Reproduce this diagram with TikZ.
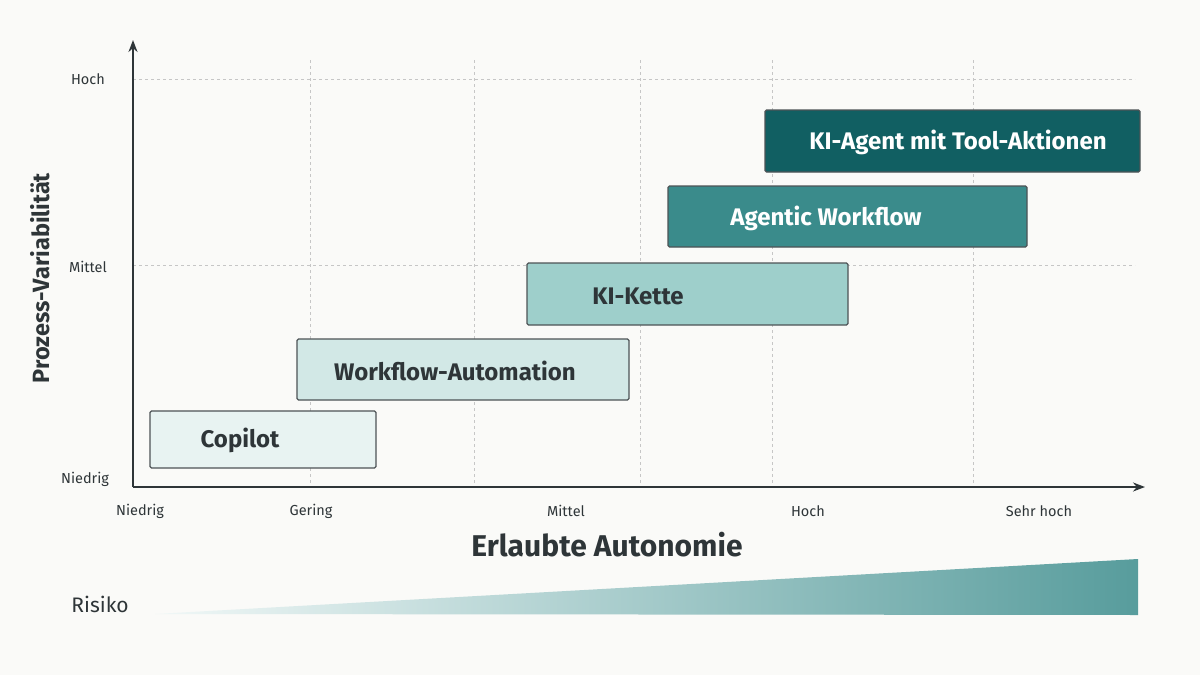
\documentclass[tikz,border=0pt]{standalone}
\usepackage{fontspec}
\setmainfont{Fira Sans}
\usetikzlibrary{arrows.meta}
\definecolor{bg}{HTML}{FAFAF8}
\definecolor{c1}{HTML}{E8F3F2}
\definecolor{c2}{HTML}{D2E8E6}
\definecolor{c3}{HTML}{9ECFCB}
\definecolor{c4}{HTML}{3A8B8B}
\definecolor{c5}{HTML}{115F62}
\definecolor{ax}{HTML}{2E3538}
\begin{document}
\begin{tikzpicture}[x=1pt,y=-1pt,
  box/.style={draw=ax!85,line width=1.2pt,rounded corners=1.5pt},
  lbl/.style={font=\fontsize{24}{28}\selectfont\bfseries},
  tick/.style={font=\fontsize{14.5}{17}\selectfont,text=ax},
  grid/.style={gray!45,dash pattern=on 3pt off 3pt,line width=0.8pt}]
\fill[bg] (0,0) rectangle (1200,675);
\useasboundingbox (0,0) rectangle (1200,675);
\foreach \x in {310,474,640,772,973} \draw[grid] (\x,60) -- (\x,487);
\foreach \y in {79,265} \draw[grid] (133,\y) -- (1135,\y);
\coordinate (o) at (133,487);
\coordinate (yt) at (133,40);
\coordinate (xt) at (1145,487);
\draw[ax,line width=2pt,-{Stealth[length=12pt,width=9pt]}] (o) -- (yt);
\draw[ax,line width=2pt,-{Stealth[length=12pt,width=9pt]}] (o) -- (xt);
\node[tick] (yh) at (88,79) {Hoch};
\node[tick] (ym) at (88,267) {Mittel};
\node[tick] (yn) at (85,479) {Niedrig};
\node[tick] (xn) at (140,511) {Niedrig};
\node[tick] (xg) at (311,511) {Gering};
\node[tick] (xm) at (566,511) {Mittel};
\node[tick] (xh) at (808,511) {Hoch};
\node[tick] (xs) at (1039,511) {Sehr hoch};
\node[rotate=90,font=\fontsize{23.5}{27}\selectfont\bfseries,text=ax] (yl) at (40,278) {Prozess-Variabilität};
\node[font=\fontsize{30}{34}\selectfont\bfseries,text=ax] (xl) at (607,545) {Erlaubte Autonomie};
\draw[box,fill=c1] (150,411) rectangle (376,468);
\node[lbl,text=ax] (t1) at (240,440) {Copilot};
\draw[box,fill=c2] (297,339) rectangle (629,400);
\node[lbl,text=ax] (t2) at (455,371) {Workflow-Automation};
\draw[box,fill=c3] (527,263) rectangle (848,325);
\node[lbl,text=ax] (t3) at (638,296) {KI-Kette};
\draw[box,fill=c4] (668,186) rectangle (1027,247);
\node[lbl,text=white] (t4) at (826,218) {Agentic Workflow};
\draw[box,fill=c5] (765,110) rectangle (1140,172);
\node[lbl,text=white] (t5) at (958,142) {KI-Agent mit Tool-Aktionen};
\node[font=\fontsize{21}{25}\selectfont,text=ax] (rk) at (100,604) {Risiko};
\shade[left color=c1!60,right color=c4!85] (155,614) -- (1138,559) -- (1138,615) -- cycle;
\end{tikzpicture}
\end{document}
